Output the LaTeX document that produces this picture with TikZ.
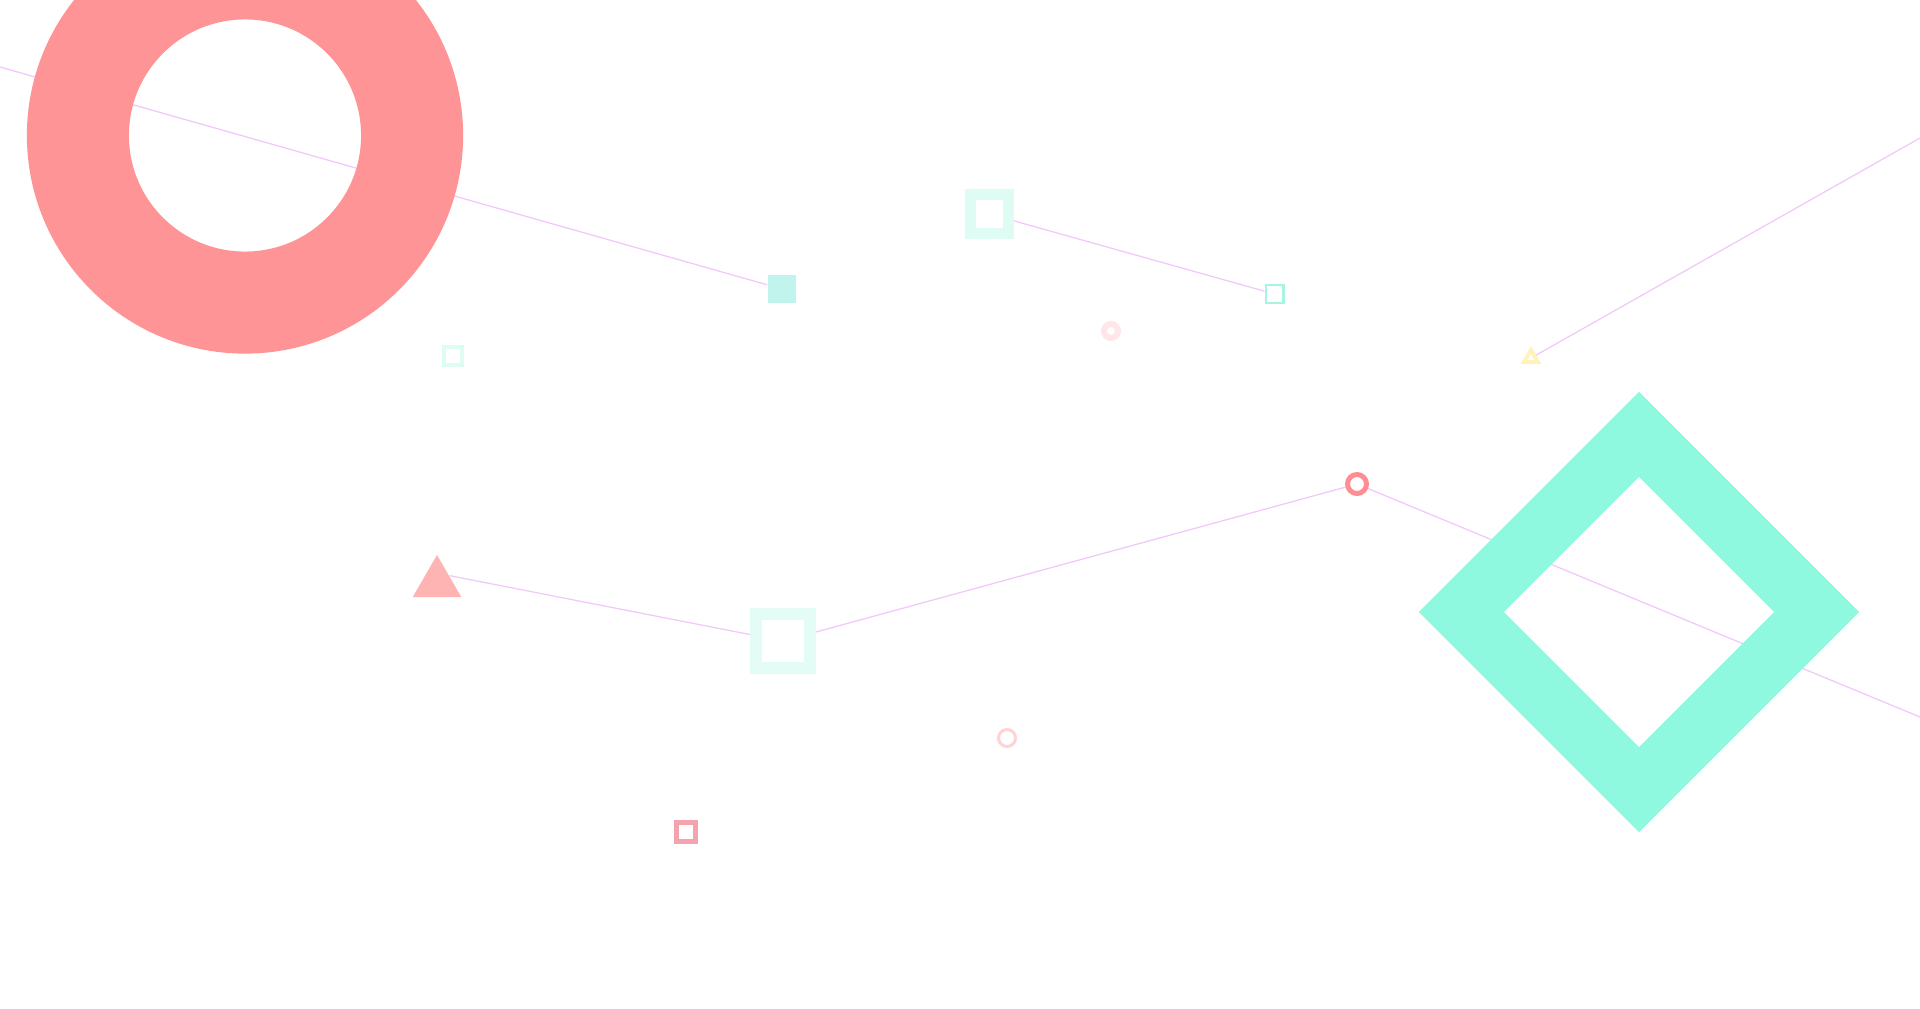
\documentclass[tikz,border=0pt]{standalone}
\usepackage{tikz}
\usetikzlibrary{shapes.geometric,backgrounds}
\definecolor{ringpink}{HTML}{FF9496}
\definecolor{dotpink}{HTML}{FF8E94}
\definecolor{palepink}{HTML}{FFD2D5}
\definecolor{faintpink}{HTML}{FFE6E8}
\definecolor{boxpink}{HTML}{F4A3AE}
\definecolor{tripink}{HTML}{FFB4B4}
\definecolor{mint}{HTML}{8EF9DE}
\definecolor{tealfill}{HTML}{C2F4EE}
\definecolor{tealmid}{HTML}{A6F5E2}
\definecolor{tealpale}{HTML}{DEFBF4}
\definecolor{tealglow}{HTML}{E4FCF6}
\definecolor{lemon}{HTML}{FFF3BC}
\definecolor{lilac}{HTML}{F1C8F9}
\tikzset{
	blob/.style={inner sep=0pt},
	sqout/.style={blob, rectangle, draw},
	sqfill/.style={blob, rectangle},
	ringout/.style={blob, circle, draw},
	trifill/.style={blob, regular polygon, regular polygon sides=3},
	link/.style={draw=lilac, line width=0.35pt}
}

\begin{document}
\begin{tikzpicture}[x=0.01cm, y=-0.01cm]
			%%%%% START %%%%%
			
			\useasboundingbox (0, 0) rectangle (1920, 1009);
			
			\node[ringout, draw=ringpink, line width=1.02cm, minimum size=3.34cm] (bigring) at (245, 135.5) {};
			
			\node[sqfill, fill=tealfill, minimum size=0.28cm] (tealbox) at (782, 289) {};
			\node[sqout, draw=tealpale, line width=0.035cm, minimum size=0.175cm] (paleboxA) at (453, 356) {};
			\node[sqout, draw=tealpale, line width=0.11cm, minimum size=0.38cm] (paleboxB) at (989.5, 214) {};
			\node[sqout, draw=tealmid, line width=0.025cm, minimum size=0.175cm] (tealsmall) at (1274.5, 294) {};
			
			\node[ringout, draw=faintpink, line width=0.06cm, minimum size=0.14cm] (faintring) at (1111, 331) {};
			\node[trifill, draw=lemon, line width=0.04cm, minimum size=0.16cm] (lemontri) at (1531, 358) {};
			
			\node[ringout, draw=dotpink, line width=0.05cm, minimum size=0.19cm] (pinkring) at (1357, 484) {};
			\node[blob, diamond, draw=mint, line width=0.60cm, minimum size=3.80cm] (bigdiamond) at (1639, 612) {};
			
			\node[trifill, fill=tripink, minimum size=0.56cm] (pinktri) at (437, 583) {};
			\node[sqout, draw=tealglow, line width=0.12cm, minimum size=0.54cm] (glowbox) at (783, 641) {};
			
			\node[ringout, draw=palepink, line width=0.03cm, minimum size=0.17cm] (lowring) at (1007, 738) {};
			\node[sqout, draw=boxpink, line width=0.05cm, minimum size=0.19cm] (pinkbox) at (686, 832) {};
			
			\coordinate (leftedge) at (0, 67);
			\coordinate (rightedgeA) at (1920, 138);
			\coordinate (rightedgeB) at (1920, 717);
			
			\begin{pgfonlayer}{background}
				\fill[white] (0, 0) rectangle (1920, 1009);
				\draw[link] (leftedge) -- (tealbox);
				\draw[link] (paleboxB) -- (tealsmall);
				\draw[link] (lemontri) -- (rightedgeA);
				\draw[link] (pinktri.side 3) -- (glowbox);
				\draw[link] (glowbox) -- (pinkring);
				\draw[link] (pinkring) -- (rightedgeB);
			\end{pgfonlayer}
			
			%%%%% END %%%%%
\end{tikzpicture}
\end{document}
